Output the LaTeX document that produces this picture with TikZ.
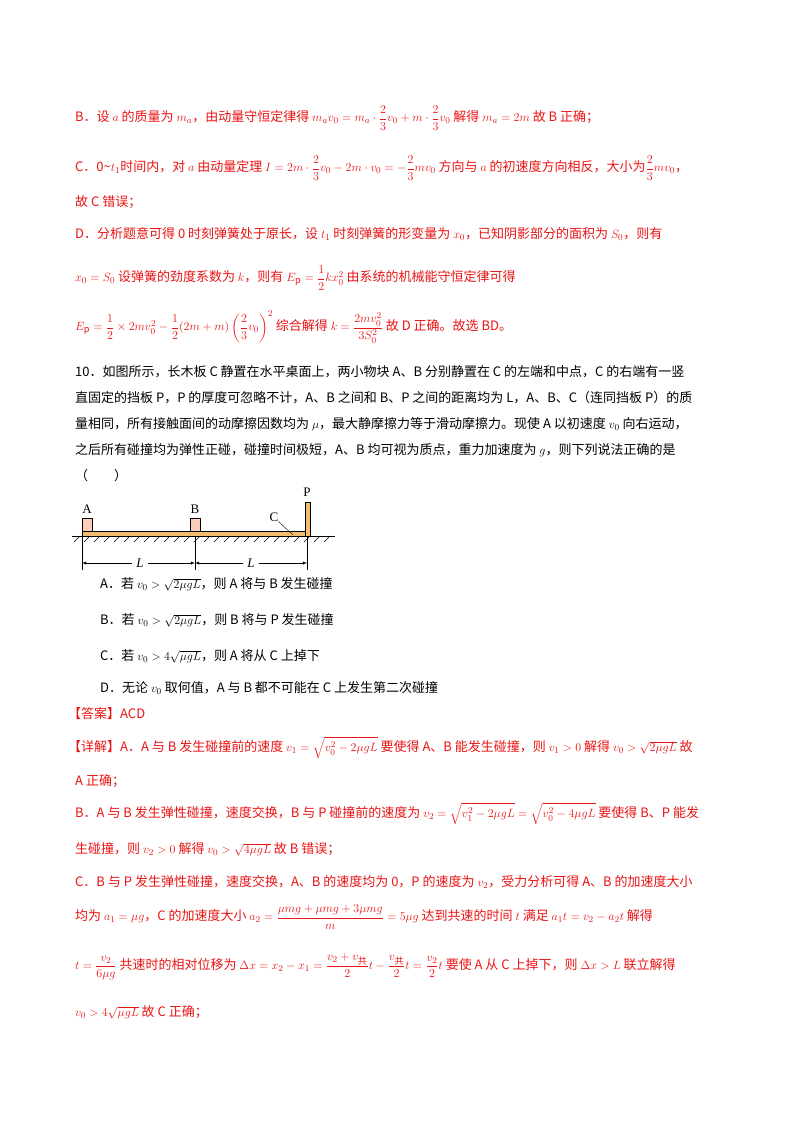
\documentclass[tikz,border=0pt]{standalone}
\usepackage{amsmath}
\usepackage{fontspec}
\setmainfont{Noto Sans CJK SC}
\newfontfamily\tms{Liberation Serif}
\definecolor{ansred}{RGB}{235,20,20}
\definecolor{board}{RGB}{240,190,110}
\definecolor{blk}{RGB}{250,205,185}
\begin{document}
\begin{tikzpicture}[x=1pt,y=-1pt,
  txt/.style={anchor=west,inner sep=0pt,font=\fontsize{13}{15}\selectfont},
  rtxt/.style={txt,text=ansred},
  lbl/.style={inner sep=0pt,font=\tms\fontsize{13}{15}\selectfont}]
\useasboundingbox (0,0) rectangle (800,1132);
\fill[white] (0,0) rectangle (800,1132);
\node[rtxt] (l1) at (75,118) {B．设 $a$ 的质量为 $m_a$，由动量守恒定律得 $m_av_0=m_a\cdot\dfrac23v_0+m\cdot\dfrac23v_0$ 解得 $m_a=2m$ 故 B 正确；};
\node[rtxt] (l2) at (75,168) {C．0\textasciitilde$t_1$时间内，对 $a$ 由动量定理 $I=2m\cdot\dfrac23v_0-2m\cdot v_0=-\dfrac23mv_0$ 方向与 $a$ 的初速度方向相反，大小为$\dfrac23mv_0$，};
\node[rtxt] (l3) at (75,202) {故 C 错误；};
\node[rtxt] (l4) at (75,234) {D．分析题意可得 0 时刻弹簧处于原长，设 $t_1$ 时刻弹簧的形变量为 $x_0$，已知阴影部分的面积为 $S_0$，则有};
\node[rtxt] (l5) at (75,278) {$x_0=S_0$ 设弹簧的劲度系数为 $k$，则有 $E_\mathrm{p}=\dfrac12kx_0^2$ 由系统的机械能守恒定律可得};
\node[rtxt] (l6) at (75,327) {$E_\mathrm{p}=\dfrac12\times2mv_0^2-\dfrac12(2m+m)\left(\dfrac23v_0\right)^2$ 综合解得 $k=\dfrac{2mv_0^2}{3S_0^2}$ 故 D 正确。故选 BD。};
\node[txt] (q1) at (75,372) {10．如图所示，长木板 C 静置在水平桌面上，两小物块 A、B 分别静置在 C 的左端和中点，C 的右端有一竖};
\node[txt] (q2) at (75,398) {直固定的挡板 P，P 的厚度可忽略不计，A、B 之间和 B、P 之间的距离均为 L，A、B、C（连同挡板 P）的质};
\node[txt] (q3) at (75,424) {量相同，所有接触面间的动摩擦因数均为 $\mu$，最大静摩擦力等于滑动摩擦力。现使 A 以初速度 $v_0$ 向右运动，};
\node[txt] (q4) at (75,450) {之后所有碰撞均为弹性正碰，碰撞时间极短，A、B 均可视为质点，重力加速度为 $g$，则下列说法正确的是};
\node[txt] (q5) at (75,476) {（\qquad）};
% diagram
\foreach \i in {0,...,25} \draw[line width=0.5pt] (74+\i*10,542) -- (80+\i*10,536);
\draw[line width=0.7pt] (72,536) -- (335,536);
\draw[fill=board] (82,531) rectangle (305,536);
\draw[fill=board] (305,502) rectangle (310,536);
\draw[fill=blk] (82,518) rectangle (92,531);
\draw[fill=blk] (190,518) rectangle (200,531);
\node[lbl] (A) at (87,509) {A};
\node[lbl] (B) at (195,509) {B};
\node[lbl] (P) at (307,492) {P};
\node[lbl] (C) at (274,517) {C};
\coordinate (cend) at (293,535);
\draw (C.south east) -- (cend);
\coordinate (d1) at (82,563); \coordinate (d2) at (195,563); \coordinate (d3) at (307,563);
\draw (82,536) -- (82,570); \draw (195,536) -- (195,570); \draw (307,536) -- (307,570);
\draw[-latex] (132,563) -- (d1); \draw[-latex] (148,563) -- (d2);
\draw[-latex] (243,563) -- (d2); \draw[-latex] (259,563) -- (d3);
\node[lbl,font=\tms\itshape\fontsize{13}{15}\selectfont] at (140,563) {L};
\node[lbl,font=\tms\itshape\fontsize{13}{15}\selectfont] at (251,563) {L};
\node[txt] (o1) at (100,584) {A．若 $v_0>\sqrt{2\mu gL}$，则 A 将与 B 发生碰撞};
\node[txt] (o2) at (100,620) {B．若 $v_0>\sqrt{2\mu gL}$，则 B 将与 P 发生碰撞};
\node[txt] (o3) at (100,656) {C．若 $v_0>4\sqrt{\mu gL}$，则 A 将从 C 上掉下};
\node[txt] (o4) at (100,688) {D．无论 $v_0$ 取何值，A 与 B 都不可能在 C 上发生第二次碰撞};
\node[rtxt] (ans) at (68,714) {【答案】ACD};
\node[rtxt] (e1) at (68,748) {【详解】A．A 与 B 发生碰撞前的速度 $v_1=\sqrt{v_0^2-2\mu gL}$ 要使得 A、B 能发生碰撞，则 $v_1>0$ 解得 $v_0>\sqrt{2\mu gL}$ 故};
\node[rtxt] (e2) at (75,781) {A 正确；};
\node[rtxt] (e3) at (75,814) {B．A 与 B 发生弹性碰撞，速度交换，B 与 P 碰撞前的速度为 $v_2=\sqrt{v_1^2-2\mu gL}=\sqrt{v_0^2-4\mu gL}$ 要使得 B、P 能发};
\node[rtxt] (e4) at (75,849) {生碰撞，则 $v_2>0$ 解得 $v_0>\sqrt{4\mu gL}$ 故 B 错误；};
\node[rtxt] (e5) at (75,882) {C．B 与 P 发生弹性碰撞，速度交换，A、B 的速度均为 0，P 的速度为 $v_2$，受力分析可得 A、B 的加速度大小};
\node[rtxt] (e6) at (75,917) {均为 $a_1=\mu g$，C 的加速度大小 $a_2=\dfrac{\mu mg+\mu mg+3\mu mg}{m}=5\mu g$ 达到共速的时间 $t$ 满足 $a_1t=v_2-a_2t$ 解得};
\node[rtxt] (e7) at (75,967) {$t=\dfrac{v_2}{6\mu g}$ 共速时的相对位移为 $\Delta x=x_2-x_1=\dfrac{v_2+v_{\text{共}}}{2}t-\dfrac{v_{\text{共}}}{2}t=\dfrac{v_2}{2}t$ 要使 A 从 C 上掉下，则 $\Delta x>L$ 联立解得};
\node[rtxt] (e8) at (75,1012) {$v_0>4\sqrt{\mu gL}$ 故 C 正确；};
\end{tikzpicture}
\end{document}
